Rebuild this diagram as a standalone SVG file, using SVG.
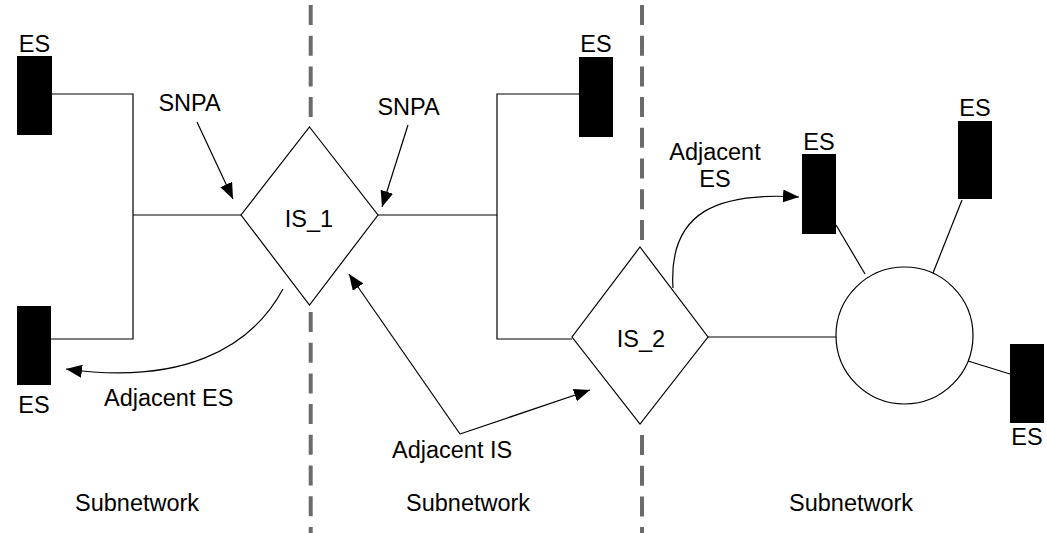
<svg xmlns="http://www.w3.org/2000/svg" width="1047" height="533" viewBox="0 0 1047 533">
<style>
text{font-family:"Liberation Sans",Arial,sans-serif;font-size:23.5px;fill:#000}
.c{text-anchor:middle}
.es{fill:#000}
.ln{fill:none;stroke:#000;stroke-width:1.2}
.sh{fill:#fff;stroke:#000;stroke-width:1.2}
.dash{stroke:#6b6b6b;stroke-width:4;stroke-dasharray:20 10.7;fill:none}
</style>
<defs>
<marker id="ah" markerUnits="userSpaceOnUse" markerWidth="18" markerHeight="14" refX="16" refY="6.5" orient="auto">
<path d="M0,0 L16,6.5 L0,13 Z" fill="#000"/>
</marker>
</defs>
<rect width="1047" height="533" fill="#fff"/>
<g id="dividers">
<line class="dash" x1="310.7" y1="5" x2="310.7" y2="126"/>
<line class="dash" x1="310.7" y1="312" x2="310.7" y2="533"/>
<line class="dash" x1="642" y1="5" x2="642" y2="242"/>
<line class="dash" x1="642" y1="435" x2="642" y2="533"/>
</g>
<g id="connectors">
<polyline class="ln" points="52,94 133,94 133,339 51,339"/>
<line class="ln" x1="133" y1="215" x2="241" y2="215"/>
<line class="ln" x1="378" y1="215" x2="497" y2="215"/>
<polyline class="ln" points="579,94 497,94 497,339 572,339"/>
<line class="ln" x1="708" y1="337" x2="836" y2="337"/>
<line class="ln" x1="836" y1="225" x2="865" y2="274"/>
<line class="ln" x1="962" y1="200" x2="933" y2="273"/>
<line class="ln" x1="968" y1="361" x2="1010" y2="374"/>
<line class="ln" x1="197" y1="122" x2="233" y2="199" marker-end="url(#ah)"/>
<line class="ln" x1="408" y1="125" x2="382" y2="207" marker-end="url(#ah)"/>
<path class="ln" d="M283,289 C250,350 180,385 66,369" marker-end="url(#ah)"/>
<path class="ln" d="M673,288 C668,210 720,192 799,197" marker-end="url(#ah)"/>
<polyline class="ln" points="460,434 349,274" marker-end="url(#ah)"/>
<polyline class="ln" points="460,434 590,390" marker-end="url(#ah)"/>
</g>
<g id="IS_1">
<polygon class="sh" points="309.5,127 378,215 309.5,305 241,215"/>
<text class="c" x="309" y="227">IS_1</text>
</g>
<g id="IS_2">
<polygon class="sh" points="640,247 708,337 640,424 572,337"/>
<text class="c" x="641" y="347">IS_2</text>
</g>
<g id="ring">
<circle class="sh" cx="904.5" cy="335.5" r="68.5"/>
</g>
<g id="es_top_left">
<rect class="es" x="17" y="56" width="35" height="79"/>
<text class="c" x="34.5" y="52">ES</text>
</g>
<g id="es_bottom_left">
<rect class="es" x="17" y="306" width="34" height="79"/>
<text class="c" x="34" y="413">ES</text>
</g>
<g id="es_top_middle">
<rect class="es" x="579" y="57" width="34" height="80"/>
<text class="c" x="596" y="52">ES</text>
</g>
<g id="es_mid_right">
<rect class="es" x="802" y="154" width="34" height="80"/>
<text class="c" x="819" y="150">ES</text>
</g>
<g id="es_top_right">
<rect class="es" x="958" y="121" width="34" height="78"/>
<text class="c" x="975" y="116">ES</text>
</g>
<g id="es_bottom_right">
<rect class="es" x="1010" y="344" width="34" height="79"/>
<text class="c" x="1027" y="445">ES</text>
</g>
<g id="labels">
<text class="c" x="189.5" y="111">SNPA</text>
<text class="c" x="408.5" y="115">SNPA</text>
<text class="c" x="715" y="160">Adjacent</text>
<text class="c" x="715" y="187">ES</text>
<text x="104" y="406">Adjacent ES</text>
<text x="392" y="458">Adjacent IS</text>
<text x="75" y="511">Subnetwork</text>
<text x="406" y="511">Subnetwork</text>
<text x="789" y="511">Subnetwork</text>
</g>
</svg>
